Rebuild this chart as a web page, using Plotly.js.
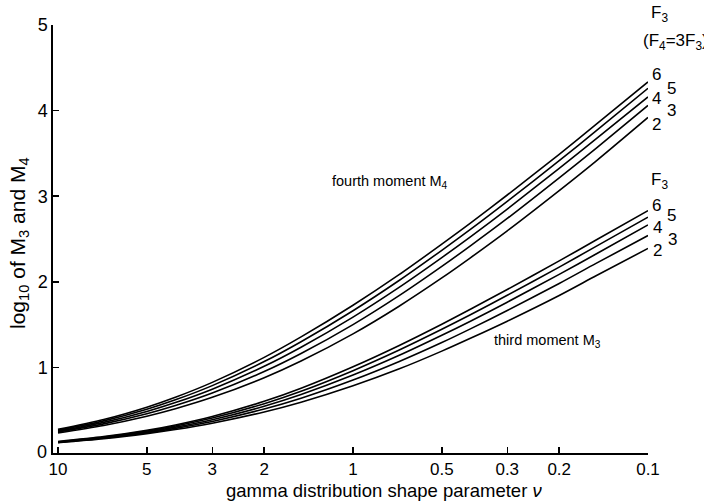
<!DOCTYPE html>
<html>
<head>
<meta charset="utf-8">
<script src="https://cdn.plot.ly/plotly-3.0.1.min.js"></script>
<style>html,body{margin:0;padding:0;background:#fff;}#chart{width:704px;height:501px;}</style>
</head>
<body>
<div id="chart"></div>
<script>
// gamma distribution shape parameter (x axis)
var nu = [10, 7, 5, 4, 3, 2, 1.5, 1, 0.7, 0.5, 0.4, 0.3, 0.2, 0.15, 0.1];
var f3Values = [2, 3, 4, 5, 6];

// log10 of third moment M3, for F3 = 2..6
var m3_F2 = [0.121, 0.167, 0.226, 0.274, 0.348, 0.479, 0.593, 0.785, 0.980, 1.190, 1.340, 1.540, 1.840, 2.070, 2.390];
var m3_F3 = [0.124, 0.173, 0.236, 0.288, 0.369, 0.514, 0.640, 0.852, 1.066, 1.290, 1.450, 1.665, 1.980, 2.215, 2.540];
var m3_F4 = [0.127, 0.179, 0.246, 0.302, 0.389, 0.546, 0.683, 0.910, 1.138, 1.375, 1.540, 1.762, 2.087, 2.325, 2.665];
var m3_F5 = [0.130, 0.185, 0.256, 0.315, 0.408, 0.576, 0.721, 0.962, 1.200, 1.445, 1.615, 1.842, 2.172, 2.414, 2.755];
var m3_F6 = [0.134, 0.191, 0.265, 0.328, 0.427, 0.604, 0.757, 1.008, 1.254, 1.505, 1.680, 1.910, 2.244, 2.488, 2.832];

// log10 of fourth moment M4, for F3 = 2..6 (F4 = 3F3)
var m4_F2 = [0.235, 0.322, 0.430, 0.517, 0.650, 0.880, 1.075, 1.392, 1.712, 2.045, 2.280, 2.595, 3.065, 3.410, 3.920];
var m4_F3 = [0.245, 0.340, 0.458, 0.554, 0.700, 0.951, 1.162, 1.500, 1.835, 2.180, 2.420, 2.740, 3.215, 3.560, 4.060];
var m4_F4 = [0.256, 0.358, 0.485, 0.589, 0.746, 1.013, 1.236, 1.588, 1.932, 2.283, 2.525, 2.850, 3.325, 3.670, 4.160];
var m4_F5 = [0.266, 0.375, 0.511, 0.621, 0.787, 1.068, 1.300, 1.662, 2.012, 2.368, 2.612, 2.940, 3.415, 3.762, 4.260];
var m4_F6 = [0.276, 0.391, 0.535, 0.651, 0.825, 1.117, 1.356, 1.726, 2.080, 2.440, 2.685, 3.014, 3.490, 3.838, 4.335];

var xTickVals = [10, 5, 3, 2, 1, 0.5, 0.3, 0.2, 0.1];
var xTickText = ['10', '5', '3', '2', '1', '0.5', '0.3', '0.2', '0.1'];
var yTickVals = [1, 2, 3, 4, 5];
var yTickText = ['1', '2', '3', '4', '5'];

var m3Series = [m3_F2, m3_F3, m3_F4, m3_F5, m3_F6];
var m4Series = [m4_F2, m4_F3, m4_F4, m4_F5, m4_F6];

var FONT = '"Liberation Sans", Arial, sans-serif';
var traces = [];
function addLine(y, name) {
  traces.push({
    x: nu, y: y, type: 'scatter', mode: 'lines', name: name,
    line: {color: '#000', width: 1.6, shape: 'spline', smoothing: 0.8},
    hoverinfo: 'skip', showlegend: false
  });
}
m4Series.forEach(function (s, i) { addLine(s, 'M4 F3=' + f3Values[i]); });
m3Series.forEach(function (s, i) { addLine(s, 'M3 F3=' + f3Values[i]); });

// layout geometry (pixels)
var L = 53, R = 648, T = 25, B = 453;
function px(x) { return (x - L) / (R - L); }
function py(y) { return (B - y) / (B - T); }
function ann(text, x, y, size, extra) {
  var a = {text: text, xref: 'paper', yref: 'paper', x: px(x), y: py(y),
    xanchor: 'center', yanchor: 'middle', showarrow: false,
    font: {family: FONT, size: size || 16, color: '#000'}};
  if (extra) for (var k in extra) a[k] = extra[k];
  return a;
}

var annotations = [
  ann('F<sub>3</sub>', 659, 14, 17),
  ann('(F<sub>4</sub>=3F<sub>3</sub>)', 675, 42, 17),
  ann('6', 656, 74, 17), ann('5', 671, 88, 17), ann('4', 656, 98, 17),
  ann('3', 671, 110, 17), ann('2', 656, 124, 17),
  ann('F<sub>3</sub>', 659, 181, 17),
  ann('6', 656, 205, 17), ann('5', 671, 215, 17), ann('4', 657, 227, 17),
  ann('3', 672, 239, 17), ann('2', 657, 250, 17),
  ann('fourth moment M<sub>4</sub>', 330, 182, 14.5, {xanchor: 'left'}),
  ann('third moment M<sub>3</sub>', 492, 341, 14.5, {xanchor: 'left'}),
  ann('log<sub>10</sub> of M<sub>3</sub> and M<sub>4</sub>', 19, 243, 21, {textangle: -90}),
  ann('gamma distribution shape parameter <i>ν</i>', 384, 490, 18.5),
  ann('0', 42, 452, 18)
];

var layout = {
  width: 704, height: 501,
  margin: {l: L, r: 704 - R, t: T, b: 501 - B, pad: 0},
  paper_bgcolor: '#fff', plot_bgcolor: '#fff',
  showlegend: false,
  xaxis: {
    type: 'log', range: [1.017, -1], autorange: false,
    tickmode: 'array', tickvals: xTickVals, ticktext: xTickText,
    ticks: 'inside', ticklen: 6, tickwidth: 1.5, tickcolor: '#000',
    showline: true, linecolor: '#000', linewidth: 1.6,
    showgrid: false, zeroline: false,
    tickfont: {family: FONT, size: 17, color: '#000'}
  },
  yaxis: {
    range: [0, 5], autorange: false,
    tickmode: 'array', tickvals: yTickVals, ticktext: yTickText,
    ticks: 'inside', ticklen: 6, tickwidth: 1.5, tickcolor: '#000',
    showline: true, linecolor: '#000', linewidth: 1.6,
    showgrid: false, zeroline: false,
    tickfont: {family: FONT, size: 18, color: '#000'}
  },
  annotations: annotations
};

Plotly.newPlot('chart', traces, layout, {displayModeBar: false, staticPlot: true});
</script>
</body>
</html>
